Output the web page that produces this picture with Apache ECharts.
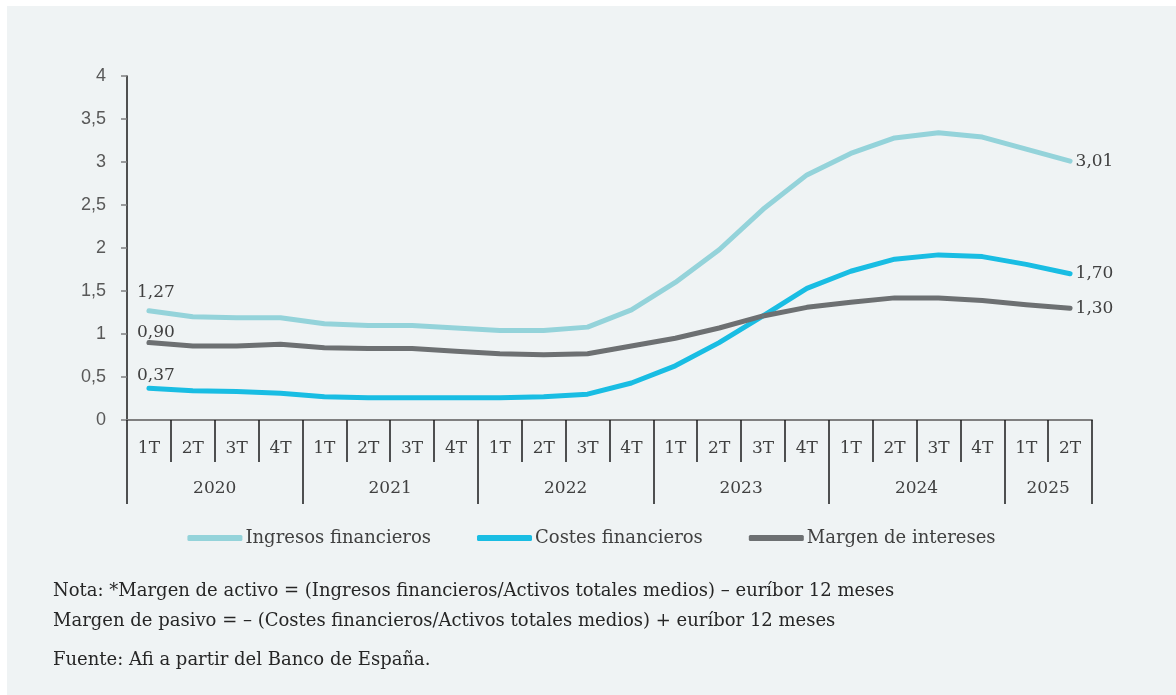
<!DOCTYPE html>
<html>
<head>
<meta charset="utf-8">
<script src="https://cdn.jsdelivr.net/npm/echarts@6/dist/echarts.min.js"></script>
<style>
  html, body { margin: 0; padding: 0; background: #ffffff; width: 1176px; height: 695px; overflow: hidden; }
  #panel { position: absolute; left: 7px; top: 6px; width: 1169px; height: 689px; background: #eff3f4; }
  #chart { width: 1169px; height: 689px; }
</style>
</head>
<body>
<div id="panel"><div id="chart"></div></div>
<script>
// Quarters (2020 1T ... 2025 2T) and their year groups
const quarters = [
  '1T','2T','3T','4T', '1T','2T','3T','4T', '1T','2T','3T','4T',
  '1T','2T','3T','4T', '1T','2T','3T','4T', '1T','2T'
];
const years = ['2020', '2021', '2022', '2023', '2024', '2025'];
const yearQuarterCounts = [4, 4, 4, 4, 4, 2];

// Percent values per quarter
const ingresosFinancieros = [1.27, 1.20, 1.19, 1.19, 1.12, 1.10, 1.10, 1.07, 1.04, 1.04, 1.08, 1.28,
                             1.60, 1.98, 2.45, 2.85, 3.10, 3.28, 3.34, 3.29, 3.15, 3.01];
const costesFinancieros   = [0.37, 0.34, 0.33, 0.31, 0.27, 0.26, 0.26, 0.26, 0.26, 0.27, 0.30, 0.43,
                             0.63, 0.90, 1.21, 1.53, 1.73, 1.87, 1.92, 1.90, 1.81, 1.70];
const margenIntereses     = [0.90, 0.86, 0.86, 0.88, 0.84, 0.83, 0.83, 0.80, 0.77, 0.76, 0.77, 0.86,
                             0.95, 1.07, 1.21, 1.31, 1.37, 1.42, 1.42, 1.39, 1.34, 1.30];

const yTicks = [0, 0.5, 1, 1.5, 2, 2.5, 3, 3.5, 4];

const notes = [
  'Nota: *Margen de activo = (Ingresos financieros/Activos totales medios) – euríbor 12 meses',
  'Margen de pasivo = – (Costes financieros/Activos totales medios) + euríbor 12 meses',
  'Fuente: Afi a partir del Banco de España.'
];

// Boundaries and centres of the year groups on a 0..n scale
const yearBounds = [0];
yearQuarterCounts.forEach(c => yearBounds.push(yearBounds[yearBounds.length - 1] + c));
const yearCenters = years.map((_, i) => (yearBounds[i] + yearBounds[i + 1]) / 2);

const SERIF = 'DejaVu Serif';
const fmt = v => v.toFixed(2).replace('.', ',');

function withEndLabels(values, firstDistance) {
  const last = values.length - 1;
  return values.map((v, i) => {
    if (i === 0) {
      return { value: v, label: { show: true, position: 'top', distance: firstDistance, offset: [7, 0] } };
    }
    if (i === last) {
      return { value: v, label: { show: true, position: 'right', distance: 5 } };
    }
    return v;
  });
}

function lineSeries(name, values, color, firstDistance) {
  return {
    name: name,
    type: 'line',
    data: withEndLabels(values, firstDistance),
    xAxisIndex: 0,
    symbol: 'circle',
    symbolSize: 1,
    showSymbol: true,
    itemStyle: { color: color },
    lineStyle: { color: color, width: 5, cap: 'round', join: 'round' },
    label: {
      show: false,
      fontFamily: SERIF,
      fontSize: 17,
      color: '#404040',
      formatter: p => fmt(p.value)
    },
    emphasis: { disabled: true }
  };
}

const chart = echarts.init(document.getElementById('chart'), null, { renderer: 'canvas' });

chart.setOption({
  animation: false,
  backgroundColor: 'transparent',
  title: notes.map((t, i) => ({
    text: t,
    left: 41,
    top: [571, 601, 640][i],
    textStyle: { fontFamily: SERIF, fontSize: 18, fontWeight: 'normal', color: '#262626' }
  })),
  legend: {
    top: 518,
    left: 'center',
    itemWidth: 55,
    itemHeight: 6,
    itemGap: 46,
    icon: 'roundRect',
    textStyle: { fontFamily: SERIF, fontSize: 18, color: '#404040', padding: [0, 0, 0, -2] },
    data: ['Ingresos financieros', 'Costes financieros', 'Margen de intereses']
  },
  grid: { left: 120, right: 84, top: 70, bottom: 275, containLabel: false },
  xAxis: [
    {
      type: 'category',
      data: quarters,
      boundaryGap: true,
      axisLine: { show: true, lineStyle: { color: '#7f7f7f', width: 2 } },
      axisTick: { show: true, interval: 0, length: 42, lineStyle: { color: '#1a1a1a', width: 1.5 } },
      axisLabel: { interval: 0, margin: 20, fontFamily: SERIF, fontSize: 17, color: '#404040' },
      splitLine: { show: false }
    },
    {
      type: 'value',
      min: 0,
      max: quarters.length,
      position: 'bottom',
      axisLine: { show: false },
      axisTick: { show: true, customValues: yearBounds, length: 84, lineStyle: { color: '#1a1a1a', width: 1.5 } },
      axisLabel: {
        customValues: yearCenters,
        margin: 60,
        fontFamily: SERIF,
        fontSize: 17,
        color: '#404040',
        formatter: v => years[yearCenters.indexOf(v)] || ''
      },
      splitLine: { show: false }
    }
  ],
  yAxis: {
    type: 'value',
    min: 0,
    max: 4,
    interval: 0.5,
    axisLine: { show: true, lineStyle: { color: '#1a1a1a', width: 1.5 } },
    axisTick: { show: true, length: 6, lineStyle: { color: '#7f7f7f', width: 1.5 } },
    axisLabel: {
      margin: 21,
      fontFamily: 'Liberation Sans',
      fontSize: 18,
      color: '#595959',
      formatter: v => (yTicks.indexOf(v) >= 0 ? String(v).replace('.', ',') : '')
    },
    splitLine: { show: false }
  },
  series: [
    lineSeries('Ingresos financieros', ingresosFinancieros, '#94d3da', 9),
    lineSeries('Costes financieros', costesFinancieros, '#19bde3', 4),
    lineSeries('Margen de intereses', margenIntereses, '#6d7072', 1)
  ]
});
</script>
</body>
</html>
